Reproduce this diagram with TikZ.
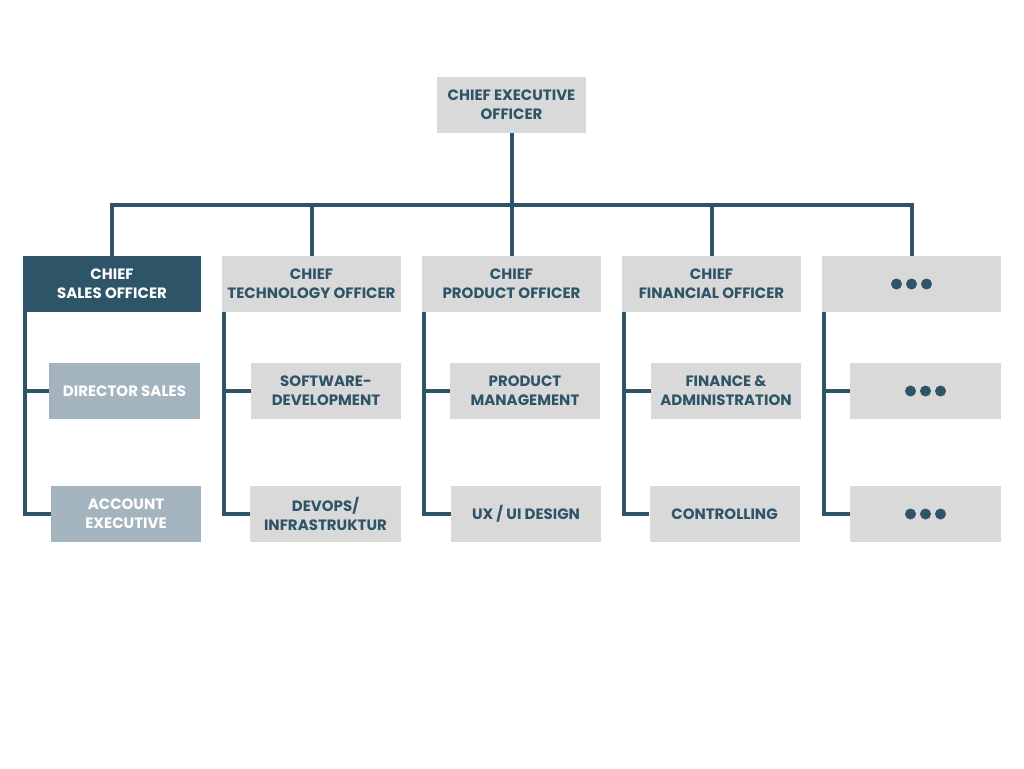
\documentclass[tikz,border=0pt]{standalone}
\usepackage{fontspec}
\setmainfont{Poppins}
\definecolor{navy}{HTML}{2E5468}
\definecolor{lgray}{HTML}{D9D9D9}
\definecolor{mgray}{HTML}{A4B4BE}
\begin{document}
\begin{tikzpicture}[x=1pt,y=-1pt,
  box/.style={rectangle, inner sep=0pt, minimum height=56pt, align=center,
    font=\fontsize{15}{19}\selectfont\bfseries, text=navy, fill=lgray},
  darkbox/.style={box, fill=navy, text=white},
  midbox/.style={box, fill=mgray, text=white},
  conn/.style={draw=navy, line width=4pt, line join=miter},
  dot/.style={fill=navy}]
\useasboundingbox (0,0) rectangle (1024,768);
\fill[white] (0,0) rectangle (1024,768);

\node[box, minimum width=149pt] (ceo) at (511.5,105) {CHIEF EXECUTIVE\\OFFICER};

\node[darkbox, minimum width=178pt] (cso) at (112,284) {CHIEF\\SALES OFFICER};
\node[box, minimum width=179pt] (cto) at (311.5,284) {CHIEF\\TECHNOLOGY OFFICER};
\node[box, minimum width=179pt] (cpo) at (511.5,284) {CHIEF\\PRODUCT OFFICER};
\node[box, minimum width=179pt] (cfo) at (711.5,284) {CHIEF\\FINANCIAL OFFICER};
\node[box, minimum width=179pt] (d1) at (911.5,284) {};

\node[midbox, minimum width=151pt] (ds) at (124.5,391) {DIRECTOR SALES};
\node[box, minimum width=150pt] (sw) at (326,391) {SOFTWARE-\\DEVELOPMENT};
\node[box, minimum width=150pt] (pm) at (525,391) {PRODUCT\\MANAGEMENT};
\node[box, minimum width=150pt] (fa) at (726,391) {FINANCE \&\\ADMINISTRATION};
\node[box, minimum width=151pt] (d2) at (925.5,391) {};

\node[midbox, minimum width=150pt] (ae) at (126,514) {ACCOUNT\\EXECUTIVE};
\node[box, minimum width=151pt] (do) at (325.5,514) {DEVOPS/\\INFRASTRUKTUR};
\node[box, minimum width=150pt] (ux) at (526,514) {UX / UI DESIGN};
\node[box, minimum width=150pt] (ct) at (724.5,514) {CONTROLLING};
\node[box, minimum width=151pt] (d3) at (925.5,514) {};

\foreach \n in {d1,d2,d3}{
  \fill[dot] ([xshift=-15pt]\n.center) circle (5.5pt);
  \fill[dot] (\n.center) circle (5.5pt);
  \fill[dot] ([xshift=15pt]\n.center) circle (5.5pt);
}

\coordinate (bus) at (512,205);
\draw[conn] (ceo.south) -- (ceo.south |- bus);
\draw[conn] (cso.north) -- (cso.north |- bus) -| (d1.north);
\foreach \n in {cto,cpo,cfo}{
  \draw[conn] (\n.north) -- (\n.north |- bus);
}

\foreach \top/\a/\b in {cso/ds/ae, cto/sw/do, cpo/pm/ux, cfo/fa/ct, d1/d2/d3}{
  \coordinate (s\top) at ([xshift=2pt]\top.south west);
  \draw[conn] (s\top) |- (\b.west);
  \draw[conn] (s\top |- \a.west) -- (\a.west);
}
\end{tikzpicture}
\end{document}
